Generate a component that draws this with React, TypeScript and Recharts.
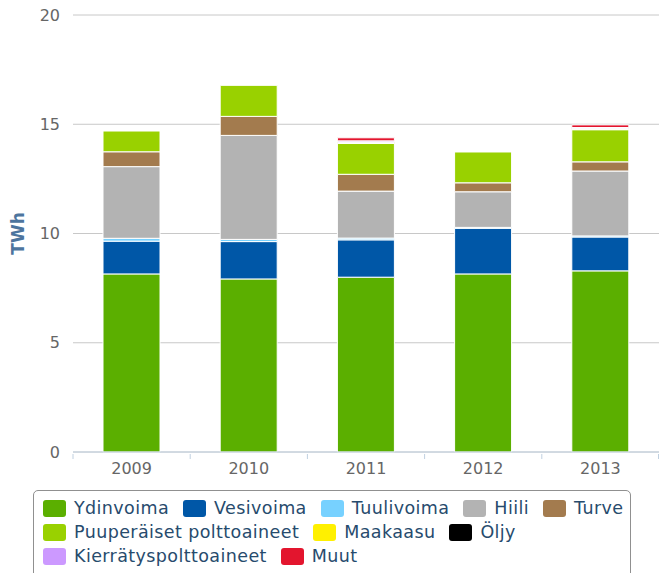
import { BarChart, Bar, XAxis, YAxis, CartesianGrid } from 'recharts';

const years = ['2009', '2010', '2011', '2012', '2013'];

const ydinvoima = [8.15, 7.92, 8.0, 8.15, 8.29];
const vesivoima = [1.5, 1.71, 1.71, 2.09, 1.55];
const tuulivoima = [0.13, 0.1, 0.08, 0.04, 0.05];
const hiili = [3.28, 4.76, 2.15, 1.63, 2.97];
const turve = [0.68, 0.87, 0.77, 0.41, 0.42];
const puuperaiset = [0.95, 1.42, 1.41, 1.41, 1.47];
const maakaasu = [0, 0, 0.04, 0, 0.03];
const oljy = [0, 0, 0.03, 0, 0.03];
const kierratys = [0, 0, 0.05, 0, 0.04];
const muut = [0, 0, 0.14, 0, 0.12];

const yTicks = [0, 5, 10, 15, 20];

const series = [
  { key: 'ydinvoima', name: 'Ydinvoima', color: '#5BAF00', values: ydinvoima },
  { key: 'vesivoima', name: 'Vesivoima', color: '#0057A7', values: vesivoima },
  { key: 'tuulivoima', name: 'Tuulivoima', color: '#77D1FF', values: tuulivoima },
  { key: 'hiili', name: 'Hiili', color: '#B3B3B3', values: hiili },
  { key: 'turve', name: 'Turve', color: '#A37B4E', values: turve },
  { key: 'puu', name: 'Puuperäiset polttoaineet', color: '#99D100', values: puuperaiset },
  { key: 'maakaasu', name: 'Maakaasu', color: '#FFF000', values: maakaasu },
  { key: 'oljy', name: 'Öljy', color: '#000000', values: oljy },
  { key: 'kierratys', name: 'Kierrätyspolttoaineet', color: '#CC99FF', values: kierratys },
  { key: 'muut', name: 'Muut', color: '#E3152E', values: muut },
];

// legend rows, by series index
const legendRows = [[0, 1, 2, 3, 4], [5, 6, 7], [8, 9]];

const W = 659;
const H = 573;
const Y_W = 73;
const BAND = (W - Y_W) / years.length;
const FONT = '"DejaVu Sans", Verdana, sans-serif';

const data = years.map((year, i) => {
  const row: Record<string, string | number> = { year };
  series.forEach((s) => {
    row[s.key] = s.values[i];
  });
  return row;
});

function YearTick(props: any) {
  const { x, y, payload, index } = props;
  const last = index === years.length - 1;
  return (
    <g>
      <line x1={x - BAND / 2} x2={x - BAND / 2} y1={y} y2={y + 5} stroke="#C0D0E0" />
      {last && <line x1={x + BAND / 2 - 0.5} x2={x + BAND / 2 - 0.5} y1={y} y2={y + 5} stroke="#C0D0E0" />}
      <text x={x} y={y + 9} dy="0.71em" textAnchor="middle" fill="#666" fontSize={16} fontFamily={FONT}>
        {payload.value}
      </text>
    </g>
  );
}

function YLabel(props: any) {
  const { viewBox } = props;
  const cx = 18;
  const cy = viewBox.y + viewBox.height / 2;
  return (
    <text
      x={cx}
      y={cy}
      transform={`rotate(-90 ${cx} ${cy})`}
      textAnchor="middle"
      dominantBaseline="central"
      fill="#4D759E"
      fontSize={17}
      fontWeight="bold"
      fontFamily={FONT}
    >
      TWh
    </text>
  );
}

function LegendBox() {
  return (
    <div
      style={{
        position: 'absolute',
        left: 33,
        top: 490,
        width: 598,
        height: 90,
        boxSizing: 'border-box',
        border: '1px solid #909090',
        borderRadius: 5,
        paddingTop: 5,
        paddingLeft: 9,
        fontFamily: FONT,
        fontSize: 17.5,
        letterSpacing: 0.4,
        color: '#274B6D',
      }}
    >
      {legendRows.map((row, r) => (
        <div key={r} style={{ display: 'flex', height: 24, alignItems: 'center', whiteSpace: 'nowrap' }}>
          {row.map((i) => (
            <div key={series[i].key} style={{ display: 'flex', alignItems: 'center', marginRight: 14 }}>
              <span
                style={{
                  display: 'inline-block',
                  width: 23,
                  height: 17,
                  borderRadius: 3,
                  background: series[i].color,
                  marginRight: 8,
                }}
              />
              <span>{series[i].name}</span>
            </div>
          ))}
        </div>
      ))}
    </div>
  );
}

export default function App() {
  return (
    <div style={{ position: 'absolute', left: 0, top: 0, width: W, height: H, background: '#fff' }}>
      <BarChart width={W} height={H} data={data} margin={{ top: 15, right: 0, bottom: 91, left: 0 }}>
        <CartesianGrid vertical={false} stroke="#C8C8C8" />
        <XAxis
          dataKey="year"
          height={30}
          axisLine={{ stroke: '#C0D0E0' }}
          tickLine={false}
          tickSize={0}
          tick={<YearTick />}
          interval={0}
        />
        <YAxis
          width={Y_W}
          domain={[0, 20]}
          ticks={yTicks}
          axisLine={false}
          tickLine={false}
          tickSize={0}
          tickMargin={13}
          tick={{ fill: '#666', fontSize: 16, fontFamily: FONT }}
          label={<YLabel />}
        />
        {series.map((s) => (
          <Bar
            key={s.key}
            dataKey={s.key}
            name={s.name}
            stackId="a"
            fill={s.color}
            stroke="#fff"
            strokeWidth={1}
            barSize={57}
            isAnimationActive={false}
          />
        ))}
      </BarChart>
      <LegendBox />
    </div>
  );
}
